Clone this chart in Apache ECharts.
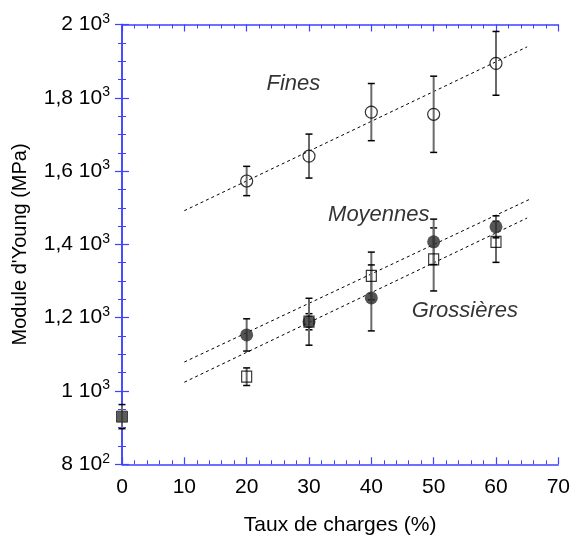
<!DOCTYPE html>
<html>
<head>
<meta charset="utf-8">
<script src="https://cdn.jsdelivr.net/npm/echarts@6/dist/echarts.min.js"></script>
<style>html,body{margin:0;padding:0;background:#fff;}#c{width:573px;height:542px;}</style>
</head>
<body>
<div id="c"></div>
<script>
// ---- data ----
const charges = [20, 30, 40, 50, 60];
const fines = [1573, 1641, 1761, 1755, 1894];
const finesErr = [40, 60, 78, 104, 87];
const moyennes = [1153, 1189, 1254, 1407, 1448];
const moyennesErr = [44, 64, 90, 62, 30];
const grossieres = [1039, 1189, 1314, 1359, 1407];
const grossieresErr = [24, 22, 65, 86, 56];
const matriceX = [0];
const matrice = [930];
const matriceErr = [33];
const finesFit = [[10, 1492], [65, 1939]];
const moyennesFit = [[10, 1079], [65.4, 1523]];
const grossieresFit = [[10, 1024], [65, 1472]];
const annotations = [
  { name: 'Fines', value: [27.5, 1837] },
  { name: 'Moyennes', value: [41.2, 1480] },
  { name: 'Grossières', value: [55, 1218] }
];
const yTickValues = [800, 1000, 1200, 1400, 1600, 1800, 2000];
const yTickMantissa = ['8', '1', '1,2', '1,4', '1,6', '1,8', '2'];
const yTickExp = ['2', '3', '3', '3', '3', '3', '3'];
const xTitle = 'Taux de charges (%)';
const yTitle = "Module d'Young (MPa)";

const FONT = '"Liberation Sans", Arial, sans-serif';
const AX = '#4040ff';

function pts(xs, ys) { return xs.map((x, i) => [x, ys[i]]); }
function errPts(xs, ys, es) { return xs.map((x, i) => [x, ys[i], es[i]]); }

function renderErr(params, api) {
  const x = api.value(0), y = api.value(1), e = api.value(2);
  const t = api.coord([x, y + e]);
  const b = api.coord([x, y - e]);
  const w = 3.5;
  return {
    type: 'group',
    children: [
      { type: 'line', shape: { x1: t[0], y1: t[1], x2: b[0], y2: b[1] }, style: { stroke: '#6a6a6a', lineWidth: 2 } },
      { type: 'line', shape: { x1: t[0] - w, y1: t[1], x2: t[0] + w, y2: t[1] }, style: { stroke: '#000', lineWidth: 1.5 } },
      { type: 'line', shape: { x1: b[0] - w, y1: b[1], x2: b[0] + w, y2: b[1] }, style: { stroke: '#000', lineWidth: 1.5 } }
    ]
  };
}
function errSeries(data) {
  return { type: 'custom', renderItem: renderErr, data: data, encode: { x: 0, y: 1 }, clip: false, silent: true, z: 2 };
}
function fitSeries(data) {
  return { type: 'line', data: data, symbol: 'none', silent: true, z: 1,
    lineStyle: { color: '#000', width: 1, type: [3, 3] } };
}

const axisCommon = {
  axisLine: { show: true, lineStyle: { color: AX, width: 1.5 } },
  axisTick: { show: true, inside: true, length: 7, lineStyle: { color: AX, width: 1.2 } },
  minorTick: { show: true, length: 4, lineStyle: { color: AX, width: 1 } },
  splitLine: { show: false },
  minorSplitLine: { show: false }
};

const chart = echarts.init(document.getElementById('c'));
chart.setOption({
  animation: false,
  backgroundColor: '#fff',
  grid: { left: 122, right: 11, top: 24.5, bottom: 77.7, containLabel: false },
  xAxis: [
    Object.assign({}, axisCommon, {
      type: 'value', min: 0, max: 70, interval: 10, position: 'bottom',
      minorTick: Object.assign({}, axisCommon.minorTick, { splitNumber: 5 }),
      axisLabel: { color: '#000', fontSize: 21, fontFamily: FONT, margin: 12 },
      name: xTitle, nameLocation: 'middle', nameGap: 50,
      nameTextStyle: { color: '#000', fontSize: 21, fontFamily: FONT }
    }),
    Object.assign({}, axisCommon, {
      type: 'value', min: 0, max: 70, interval: 10, position: 'top',
      minorTick: Object.assign({}, axisCommon.minorTick, { splitNumber: 5 }),
      axisLabel: { show: false }
    })
  ],
  yAxis: [
    Object.assign({}, axisCommon, {
      type: 'value', min: 800, max: 2000, interval: 200, position: 'left',
      minorTick: Object.assign({}, axisCommon.minorTick, { splitNumber: 4 }),
      axisLabel: {
        margin: 12, fontFamily: FONT,
        formatter: function (v) {
          const i = yTickValues.indexOf(v);
          if (i < 0) return '';
          return '{m|' + yTickMantissa[i] + ' 10}{e|' + yTickExp[i] + '}';
        },
        rich: {
          m: { color: '#000', fontSize: 21, fontFamily: FONT },
          e: { color: '#000', fontSize: 14, fontFamily: FONT, padding: [0, 0, 11, 0] }
        }
      },
      name: yTitle, nameLocation: 'middle', nameGap: 92,
      nameTextStyle: { color: '#000', fontSize: 20, fontFamily: FONT }
    }),
    Object.assign({}, axisCommon, {
      type: 'value', min: 800, max: 2000, interval: 200, position: 'right',
      minorTick: Object.assign({}, axisCommon.minorTick, { splitNumber: 4 }),
      axisLabel: { show: false }
    })
  ],
  series: [
    fitSeries(finesFit),
    fitSeries(moyennesFit),
    fitSeries(grossieresFit),
    errSeries(errPts(charges, fines, finesErr)),
    errSeries(errPts(charges, grossieres, grossieresErr)),
    errSeries(errPts(charges, moyennes, moyennesErr)),
    errSeries(errPts(matriceX, matrice, matriceErr)),
    { name: 'Fines', type: 'scatter', data: pts(charges, fines), symbol: 'circle', symbolSize: 12, z: 3,
      itemStyle: { color: 'rgba(0,0,0,0)', borderColor: '#000', borderWidth: 1.2 } },
    { name: 'Moyennes', type: 'scatter', data: pts(charges, moyennes), symbol: 'circle', symbolSize: 13, z: 3,
      itemStyle: { color: '#2a2a2a', borderColor: '#2a2a2a', borderWidth: 0 } },
    { name: 'Grossières', type: 'scatter', data: pts(charges, grossieres), symbol: 'rect', symbolSize: [10, 11], z: 4,
      itemStyle: { color: 'rgba(0,0,0,0)', borderColor: '#000', borderWidth: 1.2 } },
    { name: 'Matrice', type: 'scatter', data: pts(matriceX, matrice), symbol: 'rect', symbolSize: [11, 11], z: 4, clip: false,
      itemStyle: { color: '#333', borderColor: '#222', borderWidth: 1 } },
    { type: 'scatter', data: annotations, symbolSize: 0, silent: true, z: 5,
      label: { show: true, position: 'inside', formatter: '{b}', color: '#000', fontSize: 22, fontStyle: 'italic', fontFamily: FONT } }
  ]
});
</script>
</body>
</html>
